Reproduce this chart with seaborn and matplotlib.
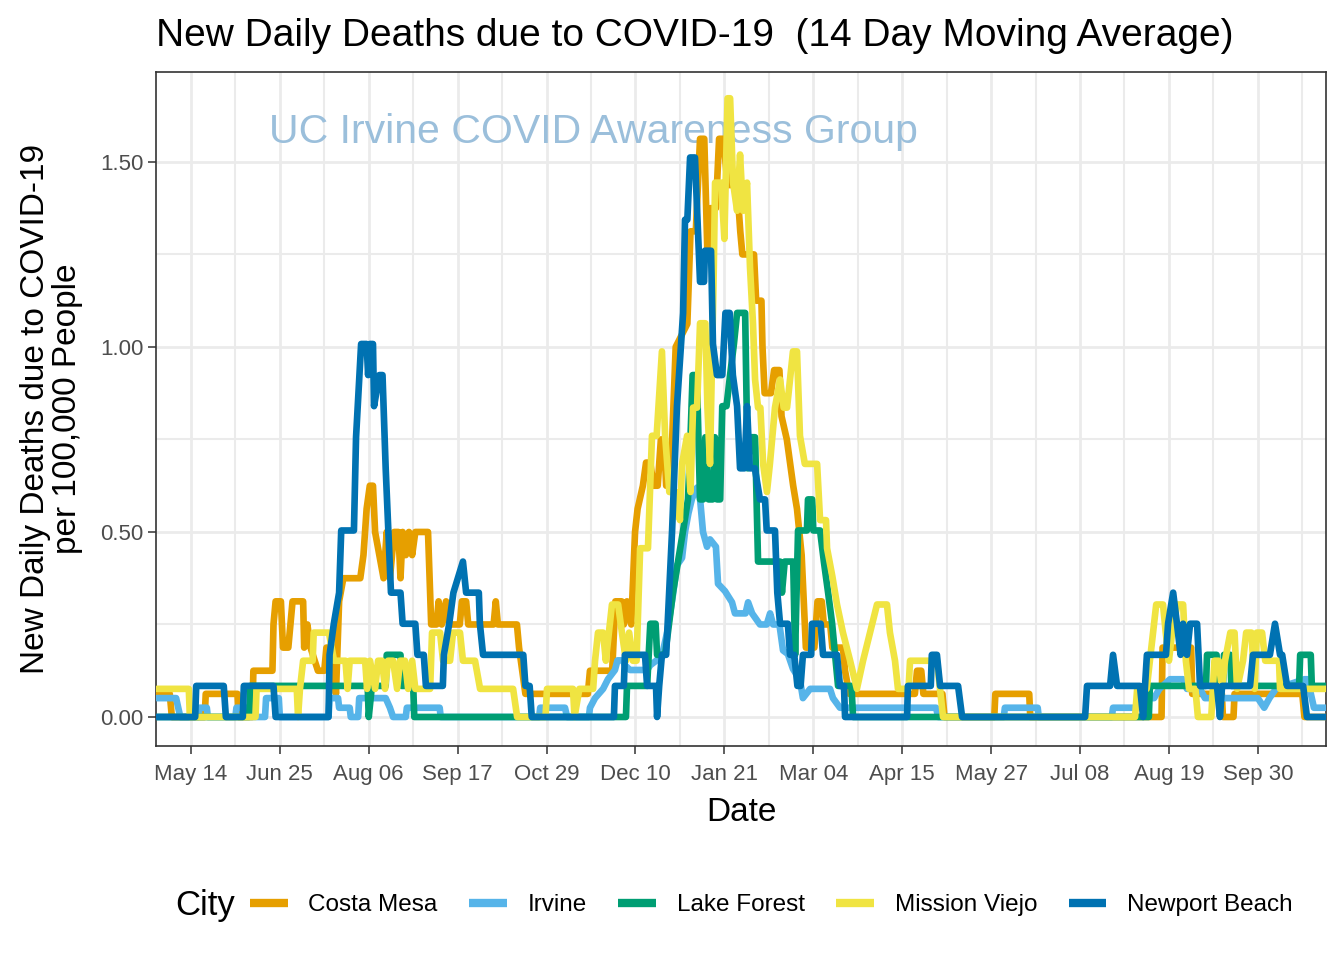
import pandas as pd
import matplotlib
matplotlib.use("Agg")
import matplotlib.pyplot as plt
import matplotlib.dates as mdates
from matplotlib.lines import Line2D
from matplotlib.ticker import FixedLocator, MultipleLocator
import seaborn as sns

# ---------------------------------------------
# data: (days since START, 14-day avg deaths per 100k)
# ---------------------------------------------
START = pd.Timestamp("2020-04-28")

CITIES = ["Costa Mesa", "Irvine", "Lake Forest", "Mission Viejo", "Newport Beach"]
COLORS = ["#E69F00", "#56B4E9", "#009E73", "#F0E442", "#0072B2"]

COSTA_MESA = [
    (0, 0.0625), (6, 0.0625), (7, 0), (22.5, 0), (23, 0.0625), (38, 0.0625), (38.5, 0),
    (45, 0), (45.5, 0.125), (54.5, 0.125), (55, 0.25), (56, 0.3125), (58.5, 0.3125),
    (59.5, 0.1875), (62, 0.1875), (63, 0.25), (64, 0.3125), (69, 0.3125), (69.5, 0.1875),
    (71, 0.25), (72.5, 0.1875), (76, 0.125), (79, 0.125), (80, 0.1875), (83, 0.1875),
    (84.5, 0.0625), (86, 0.3125), (88, 0.375), (96, 0.375), (97.5, 0.4375), (99, 0.5625),
    (100.5, 0.625), (102, 0.625), (103, 0.5), (105, 0.4375), (107, 0.375), (108.5, 0.5),
    (110, 0.375), (112, 0.5), (114, 0.5), (115, 0.375), (116, 0.5), (117.5, 0.4375),
    (119, 0.5), (120.5, 0.4375), (122, 0.5), (128, 0.5), (129.5, 0.25), (132, 0.25),
    (133, 0.3125), (134.5, 0.25), (136.5, 0.3125), (138, 0.25), (143, 0.25), (144, 0.3125),
    (146, 0.3125), (147, 0.25), (159, 0.25), (160, 0.3125), (161, 0.25), (170, 0.25),
    (171, 0.1875), (172.5, 0.125), (174, 0.0625), (203.5, 0.0625), (204.5, 0.125),
    (215, 0.125), (216.5, 0.3125), (219.5, 0.3125), (220.5, 0.25), (222, 0.3125),
    (224, 0.25), (225.8, 0.5), (227, 0.5625), (229.5, 0.625), (231, 0.6875), (233, 0.6875),
    (234.5, 0.625), (236.5, 0.625), (238, 0.75), (239.5, 0.75), (240.5, 0.625),
    (242.5, 0.625), (245, 1.0), (250.5, 1.0625), (252, 1.3125), (254.5, 1.3125),
    (256.5, 1.5625), (258.5, 1.5625), (260, 1.25), (261.5, 1.375), (264, 1.375),
    (265.5, 1.5625), (267.5, 1.5625), (269.5, 1.4375), (274, 1.4375), (275.5, 1.3125),
    (276.5, 1.25), (282, 1.25), (283, 1.125), (285.5, 1.125), (286, 1.0), (287, 0.875),
    (290, 0.875), (291.5, 0.9375), (294, 0.9375), (295, 0.8125), (297.5, 0.75),
    (299, 0.6875), (300.5, 0.625), (302.3, 0.5625), (304.5, 0.4375), (305.5, 0.3125),
    (306.5, 0.1875), (310.5, 0.1875), (312, 0.3125), (314, 0.3125), (315, 0.25),
    (318, 0.25), (319, 0.1875), (324, 0.1875), (325, 0.125), (327, 0.0625), (358, 0.0625),
    (359, 0.125), (361, 0.125), (362, 0.0625), (371, 0.0625), (372, 0), (395.5, 0),
    (396, 0.0625), (412, 0.0625), (412.5, 0), (474.5, 0), (475, 0.1875), (488.5, 0.1875),
    (489, 0.0625), (503, 0.0625), (503.5, 0), (508.5, 0), (509, 0.0625), (541, 0.0625),
    (542, 0), (552.5, 0),
]

IRVINE = [
    (0, 0.051), (9, 0.051), (10, 0.025), (11, 0), (19.5, 0), (20, 0.025), (23.5, 0.025),
    (24, 0), (37, 0), (37.5, 0.025), (43.5, 0.025), (44, 0), (51, 0), (51.5, 0.051),
    (57.5, 0.051), (58, 0), (81, 0), (81.5, 0.051), (85.5, 0.051), (86, 0.025), (91, 0.025),
    (91.5, 0), (95, 0), (95.5, 0.051), (108, 0.051), (110, 0.025), (111.5, 0), (117.5, 0),
    (118, 0.025), (133.5, 0.025), (134, 0), (180.5, 0), (181, 0.025), (192.7, 0.025),
    (193.7, 0), (204, 0), (204.5, 0.025), (206.9, 0.051), (210.7, 0.076), (213, 0.102),
    (216.3, 0.127), (217.5, 0.153), (220, 0.153), (221, 0.14), (223.4, 0.127),
    (231.5, 0.127), (233, 0.14), (236, 0.153), (239, 0.178), (241, 0.23), (243.7, 0.33),
    (245.6, 0.41), (248, 0.43), (249.4, 0.5), (251, 0.55), (252.7, 0.59), (255.1, 0.62),
    (256.5, 0.59), (257.9, 0.5), (259.8, 0.46), (261.2, 0.48), (264, 0.46), (265, 0.36),
    (268.3, 0.34), (271.6, 0.31), (273, 0.28), (278, 0.28), (279.2, 0.31), (281.1, 0.28),
    (284.8, 0.25), (288, 0.25), (289.6, 0.28), (291, 0.25), (294, 0.25), (295.7, 0.18),
    (298, 0.17), (300.4, 0.13), (303.7, 0.1), (305.1, 0.051), (308.5, 0.076),
    (317.9, 0.076), (319.3, 0.051), (322.6, 0.025), (368, 0.025), (369, 0), (400, 0),
    (400.5, 0.025), (416, 0.025), (416.5, 0), (451, 0), (451.6, 0.025), (462.8, 0.025),
    (465, 0.051), (471, 0.051), (473.5, 0.076), (478.5, 0.102), (484.7, 0.102),
    (486.5, 0.076), (492.7, 0.076), (495, 0.051), (520, 0.051), (523, 0.025),
    (525.5, 0.051), (528.5, 0.076), (542, 0.102), (543.5, 0.102), (546.5, 0.025),
    (552.5, 0.025),
]

LAKE_FOREST = [
    (0, 0), (43.5, 0), (44, 0.084), (99.5, 0.084), (100, 0), (101.5, 0.084), (108, 0.084),
    (108.5, 0.168), (115, 0.168), (115.5, 0.084), (121, 0.084), (121.5, 0), (221.5, 0),
    (222, 0.084), (231.5, 0.084), (233, 0.252), (235.5, 0.252), (236.2, 0.168), (240, 0.168),
    (243.7, 0.336), (246.1, 0.42), (248.5, 0.504), (250.8, 0.588), (252, 0.756),
    (253, 0.924), (255, 0.924), (256.5, 0.588), (258, 0.588), (259, 0.756), (260.5, 0.588),
    (262.5, 0.588), (263.5, 0.756), (264.5, 0.588), (266, 0.588), (267, 0.84), (269, 0.84),
    (270.7, 0.924), (272.5, 1.008), (274, 1.092), (277.8, 1.092), (279, 0.672),
    (280.1, 0.756), (282.5, 0.756), (283.9, 0.42), (294.3, 0.42), (295.2, 0.336),
    (296.5, 0.42), (300.5, 0.42), (301.4, 0.168), (302.8, 0.504), (307, 0.504),
    (307.5, 0.588), (309.5, 0.588), (310, 0.504), (313.2, 0.504), (315, 0.42),
    (317, 0.336), (318.9, 0.252), (320.3, 0.168), (321.7, 0.084), (328, 0.084),
    (328.8, 0), (468.5, 0), (469, 0.084), (495.5, 0.084), (496, 0.168), (500.5, 0.168),
    (501, 0.084), (503.5, 0.084), (504, 0.168), (507, 0.168), (507.5, 0.084),
    (539.5, 0.084), (540, 0.168), (545, 0.168), (545.5, 0.084), (552.5, 0.084),
]

MISSION_VIEJO = [
    (0, 0.076), (15, 0.076), (15.5, 0), (46.5, 0), (47, 0.076), (66, 0.076), (66.6, 0),
    (67.5, 0.076), (69, 0.152), (73.5, 0.152), (74, 0.228), (81.2, 0.228), (83.6, 0.152),
    (89, 0.152), (90, 0.076), (91, 0.152), (98.3, 0.152), (99.2, 0.076), (100.6, 0.152),
    (103, 0.076), (104.4, 0.152), (106.3, 0.152), (107.7, 0.076), (109.1, 0.152),
    (111.5, 0.152), (113.4, 0.076), (114.8, 0.152), (117.1, 0.152), (118.6, 0.076),
    (120.5, 0.152), (122, 0.076), (129, 0.076), (129.9, 0.228), (133.7, 0.228),
    (135.1, 0.152), (138.4, 0.152), (139.8, 0.228), (143.1, 0.228), (144.5, 0.152),
    (150.2, 0.152), (152.6, 0.076), (168.2, 0.076), (170.1, 0), (183.5, 0), (184.2, 0.076),
    (196.5, 0.076), (197.2, 0), (199.5, 0.076), (206, 0.076), (206.9, 0.152),
    (208.3, 0.228), (210.7, 0.228), (212, 0.152), (214.9, 0.304), (217.8, 0.304),
    (219.6, 0.228), (221.5, 0.152), (223, 0.228), (224.8, 0.152), (226.5, 0.152),
    (228.2, 0.456), (231.9, 0.456), (233.8, 0.76), (236, 0.76), (238.5, 0.988),
    (240, 0.76), (242, 0.608), (245, 0.608), (247, 0.532), (248, 0.684), (250.4, 0.76),
    (252, 0.608), (253.2, 0.836), (255.1, 0.836), (256.5, 1.064), (259, 1.064),
    (260, 0.836), (261.2, 0.684), (263, 1.216), (263.6, 1.444), (266.5, 1.444),
    (268, 1.292), (269.5, 1.672), (270.7, 1.672), (272.1, 1.444), (274, 1.368),
    (275.4, 1.52), (276.8, 1.368), (278.7, 1.444), (280.1, 1.216), (281.5, 1.064),
    (282.5, 0.912), (283.9, 0.836), (285, 0.836), (286.3, 0.684), (288.1, 0.608),
    (289.5, 0.684), (291.9, 0.836), (294.3, 0.912), (296, 0.836), (297.6, 0.836),
    (299, 0.912), (300.4, 0.988), (302.3, 0.988), (303.7, 0.76), (306, 0.684),
    (311.8, 0.684), (313.2, 0.532), (316, 0.532), (316.5, 0.456), (319, 0.38),
    (321.2, 0.304), (324, 0.228), (327.4, 0.152), (330.6, 0.076), (333.5, 0.152),
    (336.8, 0.228), (340.1, 0.304), (344.8, 0.304), (346.2, 0.228), (348.6, 0.152),
    (350, 0.076), (355, 0.076), (355.7, 0.152), (368.4, 0.152), (371.3, 0), (462, 0),
    (463, 0.076), (467.5, 0.076), (469, 0.152), (470.5, 0.228), (472, 0.304),
    (475.2, 0.304), (476.5, 0.228), (478, 0.152), (479.5, 0.228), (482, 0.304),
    (484.7, 0.304), (486, 0.152), (487.5, 0.076), (490.5, 0.076), (491.7, 0), (498, 0),
    (499.5, 0.152), (501.5, 0.152), (503, 0.076), (504.5, 0.152), (507, 0.228),
    (509, 0.228), (510.2, 0.076), (513, 0.152), (514.5, 0.228), (517, 0.228),
    (518.5, 0.076), (519.5, 0.228), (522, 0.228), (523.5, 0.152), (530, 0.152),
    (530.5, 0.076), (552.5, 0.076),
]

NEWPORT_BEACH = [
    (0, 0), (18, 0), (18.5, 0.084), (31.5, 0.084), (32.5, 0), (40.5, 0), (41, 0.084),
    (55, 0.084), (56, 0), (81, 0), (81.5, 0.168), (83.5, 0.252), (86, 0.336), (87, 0.504),
    (93, 0.504), (94, 0.756), (96.4, 1.008), (99, 1.008), (99.7, 0.924), (100.5, 1.008),
    (102, 1.008), (102.5, 0.84), (105, 0.924), (106.5, 0.924), (108, 0.672), (110.5, 0.336),
    (115, 0.336), (116, 0.252), (122, 0.252), (123, 0.168), (126, 0.168), (127, 0.084),
    (135, 0.084), (135.5, 0.168), (138, 0.252), (140, 0.336), (144.5, 0.42), (146, 0.336),
    (152, 0.336), (152.5, 0.252), (154, 0.168), (173, 0.168), (174, 0.084), (176, 0.084),
    (177, 0), (215.8, 0), (216.3, 0.084), (220.5, 0.084), (221, 0.168), (230.5, 0.168),
    (231.5, 0.084), (235.7, 0.084), (236.2, 0), (237.2, 0.084), (238.5, 0.168),
    (240.5, 0.168), (243.3, 0.504), (245.6, 0.84), (248.5, 1.092), (249.4, 1.344),
    (250.5, 1.344), (251.8, 1.512), (254.1, 1.512), (256.5, 1.176), (258.4, 1.176),
    (258.8, 1.26), (261.7, 1.26), (262.6, 1.008), (264.5, 0.924), (267, 0.924),
    (268.5, 1.092), (270.5, 1.092), (272, 0.924), (274, 0.84), (275.4, 0.672),
    (277.5, 0.672), (278.7, 0.84), (280, 0.672), (282.4, 0.672), (284.8, 0.588),
    (287.2, 0.588), (288, 0.504), (291.9, 0.504), (293, 0.336), (294.3, 0.252), (298, 0.252),
    (299, 0.168), (301, 0.168), (302.5, 0.084), (304, 0.084), (305.1, 0.168), (309, 0.168),
    (309.4, 0.252), (313.5, 0.252), (314.6, 0.168), (321.2, 0.168), (322.6, 0.084),
    (324.5, 0.084), (325, 0), (354.3, 0), (354.7, 0.084), (365.5, 0.084), (366, 0.168),
    (368.4, 0.168), (369.9, 0.084), (378.4, 0.084), (380.3, 0), (438.4, 0), (439.3, 0.084),
    (450.2, 0.084), (451.6, 0.168), (453.5, 0.084), (464.3, 0.084), (465.8, 0),
    (467.6, 0.168), (476.6, 0.168), (477.6, 0.252), (480, 0.336), (481.8, 0.252),
    (483.5, 0.168), (484.7, 0.252), (486.5, 0.168), (488, 0.252), (491.3, 0.252),
    (492.7, 0.084), (500.7, 0.084), (502.1, 0), (503.1, 0.084), (516.3, 0.084),
    (517.7, 0.168), (525.7, 0.168), (528.1, 0.252), (530.5, 0.168), (531.5, 0.168),
    (533.8, 0.084), (541.4, 0.084), (543.2, 0), (552.5, 0),
]

SERIES = [COSTA_MESA, IRVINE, LAKE_FOREST, MISSION_VIEJO, NEWPORT_BEACH]

# major ticks every 6 weeks starting May 14, minor grid halfway between
MAJOR_TICKS = pd.date_range("2020-05-14", periods=13, freq="42D")
MINOR_TICKS = pd.date_range("2020-06-04", periods=13, freq="42D")
Y_TICKS = [0.0, 0.5, 1.0, 1.5]

# ---------------------------------------------
# long-form table for seaborn
# ---------------------------------------------
frames = []
for city, pts in zip(CITIES, SERIES):
    days = [p[0] for p in pts]
    vals = [p[1] for p in pts]
    frames.append(pd.DataFrame({
        "Date": START + pd.to_timedelta(days, unit="D"),
        "Deaths": vals,
        "City": city,
    }))
df = pd.concat(frames, ignore_index=True)

# ---------------------------------------------
# plot
# ---------------------------------------------
sns.set_theme(style="white")
plt.rcParams["font.family"] = ["Liberation Sans", "DejaVu Sans"]
plt.rcParams["text.color"] = "black"
plt.rcParams["axes.labelcolor"] = "black"

W, H = 1344, 960
fig = plt.figure(figsize=(W / 100, H / 100), dpi=100)
ax = fig.add_axes([156 / W, 1 - 746 / H, (1326 - 156) / W, (746 - 72) / H])

ax.text(START + pd.Timedelta(days=206), 1.58, "UC Irvine COVID Awareness Group",
        ha="center", va="center", fontsize=29.5, color="#9BBFDB", zorder=1)

sns.lineplot(data=df, x="Date", y="Deaths", hue="City", hue_order=CITIES,
             palette=dict(zip(CITIES, COLORS)), estimator=None, sort=False,
             linewidth=4.8, legend=False, ax=ax, zorder=3)

ax.set_xlim(START - pd.Timedelta(days=0.5), START + pd.Timedelta(days=552.2))
ax.set_ylim(-0.0784, 1.743)

ax.xaxis.set_major_locator(FixedLocator(mdates.date2num(MAJOR_TICKS)))
ax.xaxis.set_minor_locator(FixedLocator(mdates.date2num(MINOR_TICKS)))
ax.xaxis.set_major_formatter(mdates.DateFormatter("%b %d"))
ax.set_yticks(Y_TICKS)
ax.set_yticklabels([f"{v:.2f}" for v in Y_TICKS])
ax.yaxis.set_minor_locator(MultipleLocator(0.25))

ax.set_axisbelow(True)
ax.grid(which="major", color="#EBEBEB", linewidth=2.0)
ax.grid(which="minor", color="#EBEBEB", linewidth=1.5)
for sp in ax.spines.values():
    sp.set_color("#333333")
    sp.set_linewidth(1.2)

ax.tick_params(axis="both", which="major", length=6, width=1.1, color="#333333",
               labelsize=16, labelcolor="#4D4D4D", bottom=True, left=True)
ax.tick_params(axis="x", which="major", pad=7)
ax.tick_params(axis="y", which="major", pad=3)
ax.tick_params(axis="both", which="minor", length=0)

ax.set_xlabel("Date", fontsize=24)
ax.xaxis.set_label_coords(0.5, -0.076)
ax.set_ylabel("New Daily Deaths due to COVID-19\nper 100,000 People", fontsize=24,
              linespacing=1.05)
ax.yaxis.set_label_coords(-0.062, 0.5)

fig.text(156 / W, 1 - 46 / H, "New Daily Deaths due to COVID-19  (14 Day Moving Average)",
         fontsize=28, ha="left", va="baseline")

# legend laid out in one row under the panel, title on the left
fig.text(175 / W, 1 - 905 / H, "City", fontsize=25, ha="left", va="center")
handles = [Line2D([0], [0], color=c, linewidth=6, solid_capstyle="butt") for c in COLORS]
fig.legend(handles, CITIES, loc="center left", bbox_to_anchor=(250 / W, 1 - 905 / H),
           ncol=5, frameon=False, fontsize=17.5, handlelength=1.55, handletextpad=0.85,
           columnspacing=1.3, borderpad=0, borderaxespad=0)

fig.savefig("out.png", dpi=100)
